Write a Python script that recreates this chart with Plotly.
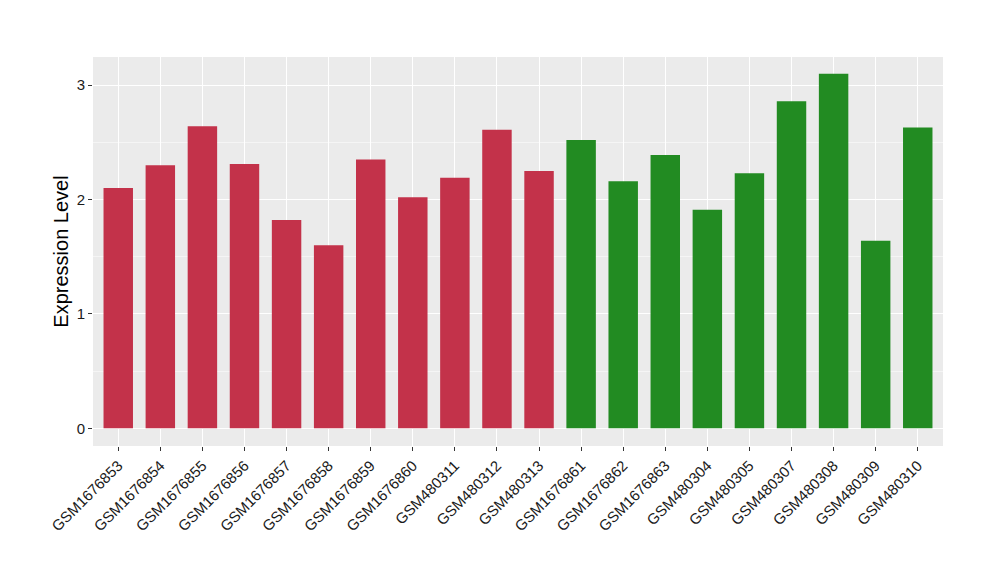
import plotly.graph_objects as go

samples = ["GSM1676853", "GSM1676854", "GSM1676855", "GSM1676856", "GSM1676857",
           "GSM1676858", "GSM1676859", "GSM1676860", "GSM480311", "GSM480312",
           "GSM480313", "GSM1676861", "GSM1676862", "GSM1676863", "GSM480304",
           "GSM480305", "GSM480307", "GSM480308", "GSM480309", "GSM480310"]
values = [2.10, 2.30, 2.64, 2.31, 1.82, 1.60, 2.35, 2.02, 2.19, 2.61,
          2.25, 2.52, 2.16, 2.39, 1.91, 2.23, 2.86, 3.10, 1.64, 2.63]
groups = ["A"] * 11 + ["B"] * 9
group_colors = {"A": "#C3324A", "B": "#228B22"}

fig = go.Figure()
fig.add_trace(go.Bar(
    x=samples, y=values,
    marker=dict(color=[group_colors[g] for g in groups], line=dict(width=0)),
    width=0.7, showlegend=False,
))

fig.update_layout(
    width=1000, height=580,
    margin=dict(l=85, r=65, t=49, b=142, autoexpand=False),
    paper_bgcolor="white", plot_bgcolor="#EBEBEB",
    font=dict(family="Liberation Sans, Arial, sans-serif", color="#1a1a1a"),
    bargap=0.3,
)
fig.update_xaxes(
    type="category", range=[-0.6, 19.6], automargin=False,
    tickangle=-45, tickfont=dict(size=15, color="#1a1a1a"),
    showgrid=True, gridcolor="white", gridwidth=1.2,
    ticks="outside", ticklen=4, tickcolor="#333333", tickwidth=1,
    zeroline=False, showline=False,
)
fig.update_yaxes(
    range=[-0.155, 3.246], automargin=False,
    tickvals=[0, 1, 2, 3], ticktext=["0", "1", "2", "3"],
    tickfont=dict(size=15, color="#1a1a1a"),
    title=dict(text="Expression Level", font=dict(size=20, color="black"), standoff=2),
    showgrid=True, gridcolor="white", gridwidth=1.2,
    minor=dict(tickvals=[0.5, 1.5, 2.5], showgrid=True, gridcolor="#F5F5F5", gridwidth=0.6, ticks=""),
    ticks="outside", ticklen=4, tickcolor="#333333", tickwidth=1,
    zeroline=False, showline=False,
)

fig.write_html("out.html")
